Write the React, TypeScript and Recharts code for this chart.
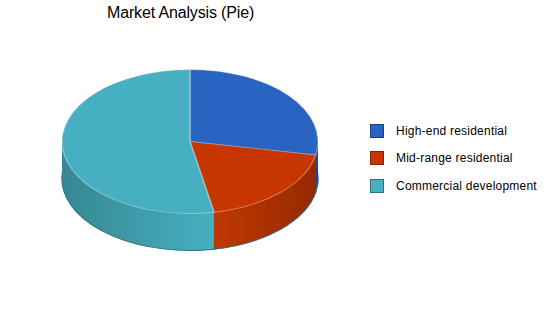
import React from 'react';
import { PieChart, Pie, Cell, Legend } from 'recharts';

const segments = ['High-end residential', 'Mid-range residential', 'Commercial development'];
const shares = [28, 19, 53];
const topColors = ['#2864c2', '#c83600', '#46afc1'];
const sideFills = ['url(#sideBlue)', 'url(#sideRed)', 'url(#sideCyan)'];

const data = segments.map((name, i) => ({ name, value: shares[i] }));

const CX = 190;
const CY = 141.5;
const RX = 128;
const TILT = 0.5625;
const DEPTH = 37;

// layers from the bottom of the side wall up to the top face (0)
const depths = Array.from({ length: DEPTH + 1 }, (_, i) => DEPTH - i);

// the class lands on the pie layer and its inner sector layer, so only the outer one gets the tilt
const tiltCss = depths
    .map(
        (d) =>
            `.pie-layer-${d}{transform:translate(0px,${d}px) scale(1,${TILT});transform-origin:${CX}px ${CY}px;transform-box:view-box;}` +
            `.pie-layer-${d} .pie-layer-${d}{transform:none;}`
    )
    .join('\n');

const renderLegend = () => (
    <div style={{ fontFamily: 'Liberation Sans, Arial, sans-serif', fontSize: 12, letterSpacing: 0.22, color: '#000' }}>
        {segments.map((name, i) => (
            <div key={name} style={{ display: 'flex', alignItems: 'center', height: 27.6 }}>
                <span
                    style={{
                        display: 'inline-block',
                        width: 12,
                        height: 12,
                        background: topColors[i],
                        border: '1px solid rgba(0,0,0,0.35)',
                        marginRight: 12,
                    }}
                />
                <span>{name}</span>
            </div>
        ))}
    </div>
);

export default function App() {
    return (
        <div style={{ position: 'absolute', left: 0, top: 0, width: 550, height: 318, background: '#fff' }}>
            <style>{tiltCss}</style>
            <PieChart width={550} height={318} margin={{ top: 0, right: 0, bottom: 0, left: 0 }}>
                <defs>
                    <linearGradient id="sideCyan" gradientUnits="userSpaceOnUse" x1={62} y1={0} x2={318} y2={0}>
                        <stop offset="0" stopColor="#368893" />
                        <stop offset="0.25" stopColor="#3d99a6" />
                        <stop offset="0.5" stopColor="#44a9b8" />
                        <stop offset="0.6" stopColor="#47b1c1" />
                        <stop offset="1" stopColor="#47b1c1" />
                    </linearGradient>
                    <linearGradient id="sideRed" gradientUnits="userSpaceOnUse" x1={62} y1={0} x2={318} y2={0}>
                        <stop offset="0" stopColor="#c23800" />
                        <stop offset="0.6" stopColor="#c03800" />
                        <stop offset="1" stopColor="#952800" />
                    </linearGradient>
                    <linearGradient id="sideBlue" gradientUnits="userSpaceOnUse" x1={62} y1={0} x2={318} y2={0}>
                        <stop offset="0" stopColor="#2558ad" />
                        <stop offset="1" stopColor="#1d4a96" />
                    </linearGradient>
                </defs>
                <text
                    x={107}
                    y={18}
                    fontFamily="Liberation Sans, Arial, sans-serif"
                    fontSize={16}
                    letterSpacing={-0.15}
                    fill="#000"
                >
                    Market Analysis (Pie)
                </text>
                {depths.map((d) => (
                    <Pie
                        key={d}
                        className={`pie-layer-${d}`}
                        data={data}
                        dataKey="value"
                        cx={CX}
                        cy={CY}
                        outerRadius={RX}
                        startAngle={90}
                        endAngle={-270}
                        stroke={d === 0 ? 'rgba(255,255,255,0.35)' : d === DEPTH ? '#2a6f78' : 'none'}
                        strokeWidth={d === 0 || d === DEPTH ? 1.5 : 0}
                        isAnimationActive={false}
                        legendType="none"
                    >
                        {data.map((entry, i) => (
                            <Cell key={entry.name} fill={d === 0 ? topColors[i] : sideFills[i]} />
                        ))}
                    </Pie>
                ))}
                <Legend
                    content={renderLegend}
                    layout="vertical"
                    wrapperStyle={{ position: 'absolute', left: 370, top: 117, width: 180 }}
                />
            </PieChart>
        </div>
    );
}
